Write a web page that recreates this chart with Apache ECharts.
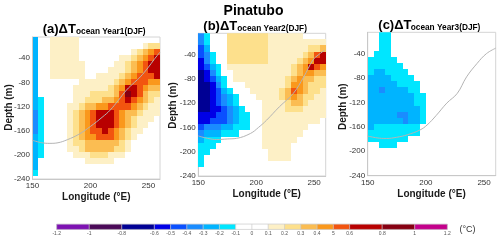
<!DOCTYPE html>
<html><head><meta charset="utf-8">
<script src="https://cdn.jsdelivr.net/npm/echarts@6/dist/echarts.min.js"></script>
<style>html,body{margin:0;padding:0;background:#fff}#c{width:500px;height:240px}</style>
</head><body><div id="c"></div>
<script>
// ---------- data ----------
const LON_CENTERS = [152.5,157.5,162.5,167.5,172.5,177.5,182.5,187.5,192.5,197.5,202.5,207.5,212.5,217.5,222.5,227.5,232.5,237.5,242.5,247.5,252.5,257.5];
const DEPTH_CENTERS = [-10,-20,-30,-40,-50,-60,-70,-80,-90,-100,-110,-120,-130,-140,-150,-160,-170,-180,-190,-200,-210,-220,-230,-240];
// cell codes -> temperature anomaly (°C), read as contour level bands
const CODE_VALUE = {'0':0,'1':0.15,'2':0.25,'3':0.35,'4':0.45,'5':0.55,'6':0.7,'7':0.9,'8':1.1,
  'a':-0.15,'b':-0.25,'c':-0.35,'d':-0.45,'e':-0.55,'f':-0.7,'g':-0.9,'h':-1.1};
const LEVELS = [-1.2,-1,-0.8,-0.6,-0.5,-0.4,-0.3,-0.2,-0.1,0,0.1,0.2,0.3,0.4,0.5,0.6,0.8,1,1.2];
const LEVEL_LABELS = ['-1.2','-1','-0.8','-0.6','-0.5','-0.4','-0.3','-0.2','-0.1','0','0.1','0.2','0.3','0.4','5','0.6','0.8','1','1.2'];
const LEVEL_COLORS = ['#7d12b2','#4b0a58','#000094','#0000e6','#0a50ff','#1a8cff','#00b4ff','#00e6ff','#ffffff','#ffffff',
  '#fdf0c6','#fde08c','#fbbd52','#fa981c','#f2540f','#b80000','#860012','#c3008b'];
// rows: depth -10 .. -240, columns: lon 152.5 .. 257.5 (spaces ignored)
const T_YEAR1 = [
 "b00 11111 00000000000000",
 "b00 11111 0000000000 0122",
 "b00 11111 000000000 12345",
 "b00 11111 0000000 11 23456",
 "b00 11111 1 00000 11 234566",
 "b00 11111 1 0000 111 234566",
 "b00 111111 00 1111 2345556",
 "b0000000 111111 23455544",
 "b000000 111111 23 46654 33",
 "b000000 111 2222 3 5765 322",
 "ba00000 11 222 33 45654 321",
 "ba0000 11 2 33 44 5555 43211",
 "ca0000 12345 666 54332 111",
 "ca0000 12345 666 5432 1110",
 "ca0000 12345 666 5432 1100",
 "ca0000 12345 565 4321 1000",
 "ba0000 12344 555 4321 0000",
 "ba0000 122 333333 21 00000",
 "ba0000 112 33333 22 1 00000",
 "ba00000 111 222 111 000000",
 "b0000000 0 11111 00000000",
 "b",
 "a",
 "0"
];
const T_YEAR2 = [
 "ca000 2222222 1 11111 0000",
 "ca000 2222222 1 11111 1111",
 "db000 2222222 111111 1223",
 "dca00 2222222 111111 2356",
 "eca00 2222222 11111 23466",
 "edba0 11111111111 2346 54",
 "feca0 0 1111111111 234433",
 "fedba 0 111111111 2343322",
 "ffeca 000 1111111 2443222",
 "ffedba 000 11111 23543221",
 "ffedcba 000 1111 23432211",
 "ffedcba 0000 1111 2332111",
 "ffeedcba 000 1111 2221111",
 "eeeddcbaa 00 11111111111",
 "eedddcbaa 00 1111111111 0",
 "dcccbbaaa 00 11111111 000",
 "cbbbaaa 0000 1111111 0000",
 "baaa 0000000 111111 00000",
 "aaa 00000000 11111 000000",
 "aa 0000000000 1111 000000",
 "a 00000000000 1111 000000",
 "a",
 "0",
 "0"
];
const T_YEAR3 = [
 "00aa","00aa","00aa","0aaa","aaaaa","aaaaaa","abbaaaa","bbbbaaaa","bbbbbaaaa","bbcbbbbaa",
 "bbbbbbbbaa","bbbbbbbbaa","bbbbbbbbba","bbbbbccbba","bbbbbbcbba","baaaaaaaa","aaaaaaaaa","aaaaaaa","00aaa",
 "0","0","0","0","0"
];
// 20°C-isotherm style grey line (lon, depth)
const THERMO_A = [[150,-176],[158,-180],[165,-181],[172,-180],[180,-175],[190,-166],[200,-153],[210,-138],[217,-126],[224,-110],[231,-93],[238,-80],[243,-71],[250,-55],[255,-42],[260,-30]];
const THERMO_B = [[150,-174],[158,-178],[166,-180],[175,-179],[183,-178],[195,-170],[202,-160],[209,-148],[220,-126],[232,-104],[241,-77],[249,-49],[254,-40],[259,-33]];
const THERMO_C = [[150,-175],[158,-178],[166,-179],[175,-177],[184,-173],[195,-165],[201,-157],[209,-141],[218,-121],[227,-105],[235,-78],[244,-56],[252,-40],[260,-31]];
const X_TICKS = {min:150, max:260, step:50};
const Y_TICKS = {min:-240, max:-5, step:40};

// ---------- helpers ----------
const HALF_LON = 2.5, HALF_DEPTH = 5;
const FF = '"Liberation Sans", Arial, Helvetica, sans-serif';
function decode(rows){
  const out = [];
  rows.forEach((row, j) => {
    const s = row.replace(/ /g, '');
    for (let i = 0; i < LON_CENTERS.length; i++) {
      const ch = s[i] || '0';
      if (ch === '0') continue;
      out.push([LON_CENTERS[i], DEPTH_CENTERS[j], CODE_VALUE[ch]]);
    }
  });
  return out;
}
function colorOf(v){
  for (let k = 0; k < LEVELS.length - 1; k++) if (v >= LEVELS[k] && v < LEVELS[k+1]) return LEVEL_COLORS[k];
  return '#ffffff';
}
function cellRender(params, api){
  const lon = api.value(0), d = api.value(1), v = api.value(2);
  const p1 = api.coord([lon - HALF_LON, d + HALF_DEPTH]);
  const p2 = api.coord([lon + HALF_LON, d - HALF_DEPTH]);
  const x0 = Math.round(p1[0]), y0 = Math.round(p1[1]), x1 = Math.round(p2[0]), y1 = Math.round(p2[1]);
  return {type:'rect', shape:{x:x0, y:y0, width:x1 - x0, height:y1 - y0}, style:{fill:colorOf(v)}};
}

const GRIDS = [
  {left:32.5, top:37, width:127.5, height:142},
  {left:198.3, top:33.3, width:127.4, height:142.7},
  {left:367.7, top:32.3, width:128, height:143.4},
  {left:56.7, top:224.2, width:390.6, height:5.2}
];
const lbl = {fontSize:8, color:'#333', fontFamily:FF};
const xAxes = [0,1,2].map(i => ({gridIndex:i, type:'value', min:X_TICKS.min, max:X_TICKS.max, interval:X_TICKS.step,
  axisLabel:Object.assign({showMaxLabel:false, margin:3}, lbl), axisLine:{show:true, lineStyle:{color:'#c8c8c8'}},
  axisTick:{show:false}, splitLine:{show:false}}));
const yAxes = [0,1,2].map(i => ({gridIndex:i, type:'value', min:Y_TICKS.min, max:Y_TICKS.max, interval:Y_TICKS.step,
  axisLabel:Object.assign({showMaxLabel:false, margin:2.5}, lbl), axisLine:{show:true, lineStyle:{color:'#c8c8c8'}},
  axisTick:{show:false}, splitLine:{show:false}}));
xAxes.push({gridIndex:3, type:'value', min:LEVELS[0], max:LEVELS[LEVELS.length-1], interval:0.1,
  axisLabel:{fontSize:5, color:'#555', margin:2, fontFamily:FF, showMaxLabel:true, showMinLabel:true,
    formatter: v => { const k = LEVELS.findIndex(l => Math.abs(l - v) < 1e-6); return k >= 0 ? LEVEL_LABELS[k] : ''; }},
  axisLine:{show:false}, axisTick:{show:false}, splitLine:{show:false}});
yAxes.push({gridIndex:3, type:'value', min:0, max:1, show:false});

const panels = [T_YEAR1, T_YEAR2, T_YEAR3];
const thermo = [THERMO_A, THERMO_B, THERMO_C];
const series = [];
panels.forEach((p, i) => {
  series.push({type:'custom', xAxisIndex:i, yAxisIndex:i, data:decode(p), encode:{x:0, y:1}, renderItem:cellRender, clip:true, z:2, silent:true});
  series.push({type:'line', xAxisIndex:i, yAxisIndex:i, data:thermo[i], smooth:0.4, symbol:'none', lineStyle:{color:'#b4b4b4', width:1}, z:5, silent:true});
});
series.push({type:'custom', xAxisIndex:3, yAxisIndex:3,
  data: LEVEL_COLORS.map((c, k) => [LEVELS[k], LEVELS[k+1], k]),
  encode:{x:[0,1]},
  renderItem:(params, api) => {
    const p1 = api.coord([api.value(0), 1]), p2 = api.coord([api.value(1), 0]);
    return {type:'rect', shape:{x:p1[0], y:p1[1], width:p2[0]-p1[0], height:p2[1]-p1[1]},
      style:{fill:LEVEL_COLORS[api.value(2)], stroke:'#c8c8c8', lineWidth:0.5}};
  }, silent:true});

const big = {fontSize:13, fontWeight:'bold', fontFamily:FF, fill:'#000'};
const small = {fontSize:8.3, fontWeight:'bold', fontFamily:FF, fill:'#000'};
function txt(x, y, text, st, extra){ return Object.assign({type:'text', x:x, y:y, silent:true,
  style:Object.assign({text:text, align:'left', verticalAlign:'middle'}, st)}, extra || {}); }
const nameSt = {fontSize:10, fontWeight:'bold', fontFamily:FF, fill:'#1a1a1a', align:'center'};
const graphic = [
  txt(253.5, 11, 'Pinatubo', {fontSize:14, fontWeight:'bold', fontFamily:FF, fill:'#000', align:'center'}),
  txt(42.7, 29.8, '(a)ΔT', big), txt(76, 32, 'ocean Year1(DJF)', small),
  txt(203.3, 26.5, '(b)ΔT', big), txt(237.3, 28.8, 'ocean Year2(DJF)', small),
  txt(378.3, 25.3, '(c)ΔT', big), txt(410.7, 27.4, 'ocean Year3(DJF)', small),
  txt(8.8, 107.5, 'Depth (m)', nameSt, {rotation:Math.PI/2}),
  txt(173.7, 105.5, 'Depth (m)', nameSt, {rotation:Math.PI/2}),
  txt(342.8, 106.7, 'Depth (m)', nameSt, {rotation:Math.PI/2}),
  txt(96.3, 197, 'Longitude (°E)', nameSt),
  txt(266.7, 194, 'Longitude (°E)', nameSt),
  txt(431.5, 194, 'Longitude (°E)', nameSt),
  txt(459.5, 230, '(°C)', {fontSize:9, fontFamily:FF, fill:'#333'})
];

const chart = echarts.init(document.getElementById('c'), null, {renderer:'canvas'});
chart.setOption({
  animation:false,
  backgroundColor:'#ffffff',
  grid: GRIDS.map((g, i) => Object.assign({show:true, borderColor: i === 3 ? '#bbbbbb' : '#d4d4d4', borderWidth: i === 3 ? 0.5 : 1, backgroundColor:'#fff'}, g)),
  xAxis: xAxes, yAxis: yAxes, series: series, graphic: graphic
});
</script></body></html>
